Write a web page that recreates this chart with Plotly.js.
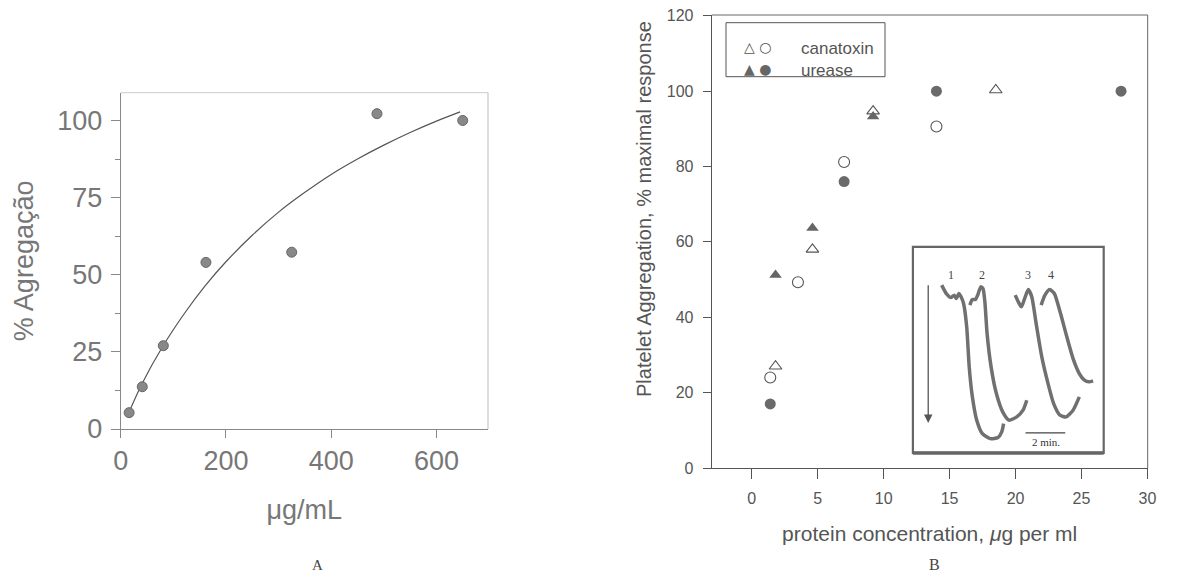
<!DOCTYPE html>
<html>
<head>
<meta charset="utf-8">
<script src="https://cdn.plot.ly/plotly-3.0.1.min.js"></script>
<style>html,body{margin:0;padding:0;background:#fff;}#chart{width:1193px;height:588px;}</style>
</head>
<body>
<div id="chart"></div>
<script>
// ---- Panel A data ----
const doseA = [16, 41, 81, 162, 325, 487, 650];
const aggA = [5.3, 13.7, 27, 54, 57.3, 102.2, 100];
const fitX = [16, 40, 80, 120, 160, 200, 250, 300, 350, 400, 450, 500, 550, 600, 645];
const fitY = [5.5, 14.5, 26.8, 37.2, 46.3, 54.2, 62.8, 70.3, 76.7, 82.5, 87.5, 92.0, 96.1, 99.8, 102.8];
const ticksAx = [0, 200, 400, 600];
const ticksAy = [0, 25, 50, 75, 100];
const minorAy = [12.5, 37.5, 62.5, 87.5];

// ---- Panel B data ----
const canaTriX = [1.8, 4.6, 9.2, 18.5];
const canaTriY = [27, 58, 94.7, 100.3];
const canaCirX = [1.4, 3.5, 7, 14];
const canaCirY = [24, 49.3, 81.2, 90.6];
const ureTriX = [1.8, 4.6, 9.2];
const ureTriY = [51.2, 63.7, 93.3];
const ureCirX = [1.4, 7, 14, 28];
const ureCirY = [17, 76, 100, 100];
const ticksBx = [0, 5, 10, 15, 20, 25, 30];
const ticksBy = [0, 20, 40, 60, 80, 100, 120];
const legendNames = ['canatoxin', 'urease'];

// ---- Inset tracings (relative units inside the inset box) ----
const trace1X = [28.75, 33.4, 38.1, 41.25, 43.4, 45.9, 48.1, 50.6, 53.75, 56.25, 59.4, 63.75, 69.4, 77.2, 85, 88.75, 90.6];
const trace1Y = [167.7, 159.3, 155.3, 157.7, 154.3, 159.3, 156, 149.3, 126, 86, 56, 32.7, 19.3, 14.3, 15.3, 21, 29.3];
const trace2X = [56.9, 59.4, 62.5, 64.7, 67.8, 70, 71.9, 74.1, 78.1, 83.4, 89.7, 95.9, 103.75, 110, 113.75];
const trace2Y = [147.7, 153.3, 153.3, 157.7, 166, 164.3, 151, 119.3, 86, 59.3, 41, 32.7, 36, 42.7, 52.7];
const trace3X = [102.2, 105.3, 108.4, 111.6, 115.3, 118.75, 123.1, 128.75, 135, 140.6, 146.9, 153.1, 160, 166.25];
const trace3Y = [157.7, 151, 146, 154.3, 163.3, 156, 129.3, 96, 69.3, 49.3, 37.7, 36, 42.7, 56];
const trace4X = [128.1, 131.9, 136.6, 141.25, 147.5, 153.75, 160, 166.25, 171, 176, 180];
const trace4Y = [147.7, 157.7, 163.3, 159.3, 139.3, 116, 94.3, 79.3, 73, 71, 72];
const traceLabels = ['1', '2', '3', '4'];
const traceLabelX = [38.1, 68.75, 114.7, 138.1];

const SANS = 'Arial, "Liberation Sans", sans-serif';
const SERIF = '"Liberation Serif", "DejaVu Serif", serif';

const data = [
  {x: fitX, y: fitY, xaxis: 'x', yaxis: 'y', mode: 'lines', line: {color: '#555', width: 1.2, shape: 'spline', smoothing: 0.8}, hoverinfo: 'skip'},
  {x: doseA, y: aggA, xaxis: 'x', yaxis: 'y', mode: 'markers', marker: {color: '#888', size: 10, line: {color: '#666', width: 1}}},
  {x: canaTriX, y: canaTriY, xaxis: 'x2', yaxis: 'y2', mode: 'markers', name: 'canatoxin', marker: {symbol: 'triangle-up-open', color: '#555', size: 11, line: {width: 1.1}}},
  {x: canaCirX, y: canaCirY, xaxis: 'x2', yaxis: 'y2', mode: 'markers', name: 'canatoxin', marker: {symbol: 'circle-open', color: '#555', size: 11, line: {width: 1.1}}},
  {x: ureTriX, y: ureTriY, xaxis: 'x2', yaxis: 'y2', mode: 'markers', name: 'urease', marker: {symbol: 'triangle-up', color: '#666', size: 11}},
  {x: ureCirX, y: ureCirY, xaxis: 'x2', yaxis: 'y2', mode: 'markers', name: 'urease', marker: {symbol: 'circle', color: '#6a6a6a', size: 11}},
];
[[trace1X, trace1Y], [trace2X, trace2Y], [trace3X, trace3Y], [trace4X, trace4Y]].forEach(function (t) {
  data.push({x: t[0], y: t[1], xaxis: 'x3', yaxis: 'y3', mode: 'lines', line: {color: '#707070', width: 3.5, shape: 'spline', smoothing: 0.6}, hoverinfo: 'skip'});
});

const annotations = [
  {text: 'A', xref: 'paper', yref: 'paper', x: 310 / 1193, y: 1 - 575 / 588, showarrow: false, font: {family: SERIF, size: 15, color: '#444'}},
  {text: 'B', xref: 'paper', yref: 'paper', x: 942 / 1193, y: 1 - 575 / 588, showarrow: false, font: {family: SERIF, size: 16, color: '#444'}},
  {text: 'Platelet Aggregation, % maximal response', xref: 'paper', yref: 'paper', x: 644 / 1193, y: 1 - 209 / 588, textangle: -90, showarrow: false, xanchor: 'center', yanchor: 'middle', font: {family: SANS, size: 20, color: '#555'}},
  {text: '\u25B3 \u25CB', xref: 'paper', yref: 'paper', x: 758 / 1193, y: 1 - 36.7 / 588, showarrow: false, font: {family: '"DejaVu Sans"', size: 14, color: '#555'}},
  {text: '\u25B2 \u25CF', xref: 'paper', yref: 'paper', x: 758 / 1193, y: 1 - 59.3 / 588, showarrow: false, font: {family: '"DejaVu Sans"', size: 14, color: '#666'}},
  {text: legendNames[0], xref: 'paper', yref: 'paper', x: 799 / 1193, y: 1 - 36.7 / 588, xanchor: 'left', showarrow: false, font: {family: SANS, size: 17, color: '#555'}},
  {text: legendNames[1], xref: 'paper', yref: 'paper', x: 799 / 1193, y: 1 - 59.3 / 588, xanchor: 'left', showarrow: false, font: {family: SANS, size: 17, color: '#555'}},
  {text: '', xref: 'x3', yref: 'y3', x: 15.3, y: 30, axref: 'x3', ayref: 'y3', ax: 15.3, ay: 169, showarrow: true, arrowhead: 2, arrowsize: 1.3, arrowwidth: 1.3, arrowcolor: '#555'},
  {text: '2 min.', xref: 'x3', yref: 'y3', x: 132.5, y: 11, showarrow: false, font: {family: SERIF, size: 11, color: '#333'}},
];
traceLabels.forEach(function (s, i) {
  annotations.push({text: s, xref: 'x3', yref: 'y3', x: traceLabelX[i], y: 177.7, showarrow: false, font: {family: SERIF, size: 12, color: '#444'}});
});

const shapes = [
  {type: 'line', xref: 'x domain', yref: 'y domain', x0: 0, x1: 1, y0: 1, y1: 1, line: {color: '#ccc', width: 1}},
  {type: 'line', xref: 'x domain', yref: 'y domain', x0: 1, x1: 1, y0: 0, y1: 1, line: {color: '#bbb', width: 1}},
  {type: 'line', xref: 'x2 domain', yref: 'y2 domain', x0: 0, x1: 1, y0: 1, y1: 1, line: {color: '#666', width: 1}},
  {type: 'line', xref: 'x2 domain', yref: 'y2 domain', x0: 1, x1: 1, y0: 0, y1: 1, line: {color: '#666', width: 1}},
  {type: 'rect', xref: 'paper', yref: 'paper', x0: 726 / 1193, x1: 885 / 1193, y0: 1 - 76.7 / 588, y1: 1 - 22.7 / 588, line: {color: '#555', width: 1}},
  {type: 'rect', xref: 'x3 domain', yref: 'y3 domain', x0: 0, x1: 1, y0: 0, y1: 1, line: {color: '#666', width: 2.2}},
  {type: 'line', xref: 'x3 domain', yref: 'y3 domain', x0: 0, x1: 1, y0: 0, y1: 0, line: {color: '#666', width: 3.5}},
  {type: 'line', xref: 'x3', yref: 'y3', x0: 112.5, x1: 152.2, y0: 20, y1: 20, line: {color: '#444', width: 1.2}},
];

const layout = {
  width: 1193, height: 588,
  margin: {l: 0, r: 0, t: 0, b: 0},
  paper_bgcolor: '#fff', plot_bgcolor: 'rgba(0,0,0,0)',
  showlegend: false,
  font: {family: SANS},
  xaxis: {
    domain: [120.7 / 1193, 488 / 1193], anchor: 'y', range: [0, 698],
    tickmode: 'array', tickvals: ticksAx, ticks: 'outside', ticklen: 8, tickcolor: '#888',
    showline: true, linecolor: '#888', linewidth: 1, showgrid: false, zeroline: false,
    tickfont: {family: SANS, size: 27, color: '#777'}, ticklabelstandoff: 0,
    title: {text: '\u03BCg/mL', font: {family: SANS, size: 27, color: '#777'}, standoff: 24}
  },
  yaxis: {
    domain: [1 - 429 / 588, 1 - 92.7 / 588], anchor: 'x', range: [0, 109],
    tickmode: 'array', tickvals: ticksAy, ticks: 'outside', ticklen: 9, tickcolor: '#888',
    minor: {tickmode: 'array', tickvals: minorAy, ticks: 'outside', ticklen: 5, tickcolor: '#888'},
    showline: true, linecolor: '#888', linewidth: 1, showgrid: false, zeroline: false,
    tickfont: {family: SANS, size: 27, color: '#777'}, ticklabelstandoff: 3,
    title: {text: '% Agregação', font: {family: SANS, size: 27, color: '#777'}, standoff: 15}
  },
  xaxis2: {
    domain: [711.7 / 1193, 1147.7 / 1193], anchor: 'y2', range: [-3.04, 30.02],
    tickmode: 'array', tickvals: ticksBx, ticks: 'outside', ticklen: 10, tickcolor: '#555',
    showline: true, linecolor: '#555', linewidth: 1, showgrid: false, zeroline: false,
    tickfont: {family: SANS, size: 16, color: '#555'}, ticklabelstandoff: 6,
    title: {text: 'protein concentration, <i>\u03BC</i>g per ml', font: {family: SANS, size: 21, color: '#555'}, standoff: 20}
  },
  yaxis2: {
    domain: [1 - 468 / 588, 1 - 15 / 588], anchor: 'x2', range: [0, 120.2],
    tickmode: 'array', tickvals: ticksBy, ticks: 'outside', ticklen: 8, tickcolor: '#555',
    showline: true, linecolor: '#555', linewidth: 1, showgrid: false, zeroline: false,
    tickfont: {family: SANS, size: 16, color: '#555'}, ticklabelstandoff: 6
  },
  xaxis3: {domain: [912.9 / 1193, 1103.7 / 1193], anchor: 'y3', range: [0, 190.6], visible: false, fixedrange: true},
  yaxis3: {domain: [1 - 452.9 / 588, 1 - 246.8 / 588], anchor: 'x3', range: [0, 206], visible: false, fixedrange: true},
  annotations: annotations,
  shapes: shapes
};

Plotly.newPlot('chart', data, layout, {staticPlot: true, displayModeBar: false});
</script>
</body>
</html>
